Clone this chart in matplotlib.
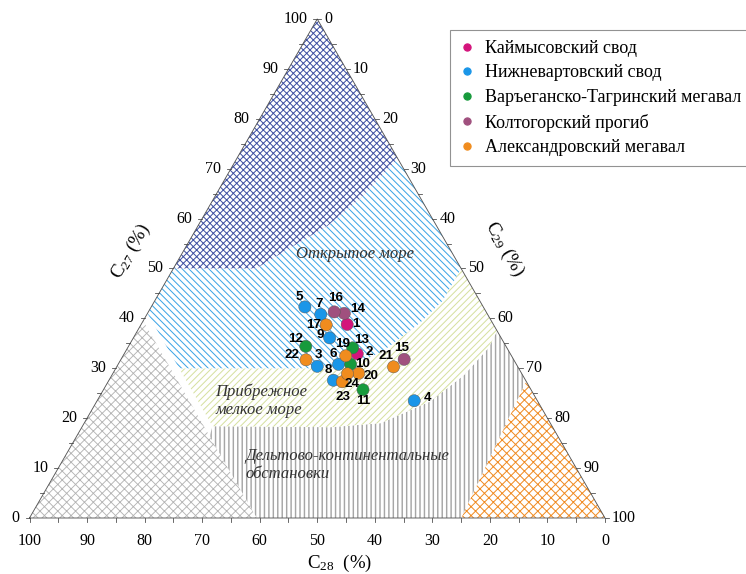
import numpy as np
import matplotlib
matplotlib.use("Agg")
import matplotlib.pyplot as plt
from matplotlib.lines import Line2D

plt.rcParams['font.family'] = ['Liberation Serif', 'DejaVu Serif']
plt.rcParams['mathtext.fontset'] = 'custom'
plt.rcParams['mathtext.rm'] = 'Liberation Serif'
plt.rcParams['mathtext.it'] = 'Liberation Serif:italic'
plt.rcParams['hatch.linewidth'] = 0.9

# ==========================================================
# data: steranes C27 / C28 / C29, %
# ==========================================================
sample_ids = ['1', '2', '3', '4', '5', '6', '7', '8', '9', '10', '11', '12',
              '13', '14', '15', '16', '17', '19', '20', '21', '22', '23', '24']
sample_group = [0, 0, 1, 1, 1, 1, 1, 1, 1, 2, 2, 2,
                2, 3, 3, 3, 4, 4, 4, 4, 4, 4, 4]
c27 = [38.8, 32.9, 30.4, 23.5, 42.3, 30.8, 40.8, 27.6, 36.1, 30.8, 25.7, 34.4,
       34.1, 41.0, 31.8, 41.3, 38.7, 32.5, 29.0, 30.3, 31.7, 27.3, 28.9]
c28 = [25.4, 26.6, 34.8, 21.4, 31.0, 30.9, 29.0, 33.4, 29.8, 28.8, 29.2, 34.8,
       26.8, 24.8, 19.0, 26.4, 29.1, 28.8, 28.3, 21.6, 36.1, 32.0, 30.3]
c29 = [35.8, 40.5, 34.8, 55.1, 26.7, 38.3, 30.2, 39.0, 34.1, 40.4, 45.1, 30.8,
       39.1, 34.2, 49.2, 32.3, 32.2, 38.7, 42.7, 48.1, 32.2, 40.7, 40.8]

groups = ['Каймысовский свод', 'Нижневартовский свод',
          'Варъеганско-Тагринский мегавал', 'Колтогорский прогиб',
          'Александровский мегавал']
group_colors = ['#d4147c', '#1a96e8', '#179a3c', '#a0507e', '#f08c1e']

# facies fields, vertices as (C27, C29) %
field_deep = [(100, 0), (50, 0), (50, 14.4), (54.5, 18.6), (58.5, 22.5),
              (64.1, 25.5), (72, 28)]
field_open_sea = [(50, 0), (41, 0), (30, 11), (30, 37.5), (31.5, 41.8),
                  (33.3, 44.6), (39.1, 48.3), (43.5, 50), (50, 50), (72, 28),
                  (64.1, 25.5), (58.5, 22.5), (54.5, 18.6), (50, 14.4)]
field_shelf = [(30, 11), (30, 37.5), (31.5, 41.8), (33.3, 44.6), (39.1, 48.3),
               (43.5, 50), (50, 50), (37.5, 62.5), (34.1, 62.7), (28.7, 61.2),
               (23.4, 58.0), (19.0, 51.5), (18.2, 43.2), (18.4, 22.6)]
field_delta = [(18.4, 22.6), (18.2, 43.2), (19.0, 51.5), (23.4, 58.0),
               (28.7, 61.2), (34.1, 62.7), (37.5, 62.5), (27.4, 72.6),
               (0, 75), (0, 39.5), (16.4, 23.1)]
field_c28 = [(0, 0), (39.5, 0), (0, 39.5)]
field_c29 = [(27.4, 72.6), (0, 100), (0, 75)]

# label offsets, px (right, down)
label_offsets = {'1': (9, 0), '2': (12, -2), '3': (1, -11), '4': (13, -3),
                 '5': (-6, -10), '6': (-5, -10), '7': (-2, -10), '8': (-5, -10),
                 '9': (-9, -3), '10': (12, 0), '11': (0, 11), '12': (-10, -7),
                 '13': (9, -8), '14': (13, -4), '15': (-3, -11), '16': (1, -14),
                 '17': (-13, 0), '19': (-3, -12), '20': (12, 3), '21': (-8, -11),
                 '22': (-14, -5), '23': (1, 15), '24': (5, 10)}

# ==========================================================
# geometry
# ==========================================================
W, H, DPI = 746, 574, 80
X0, Y0 = 29.5, 518.0      # left corner of triangle, px
SX, SY = 575.5, 576.2     # px per unit side
R3 = np.sqrt(3) / 2


def tern(a27, a29):
    a27 = np.asarray(a27, float) / 100
    a29 = np.asarray(a29, float) / 100
    return a29 + a27 / 2, a27 * R3


def px(x, y):
    return (x - X0) / SX, (Y0 - y) / SY


fig = plt.figure(figsize=(W / DPI, H / DPI), dpi=DPI)
ax = fig.add_axes([0, 0, 1, 1])
ax.set_xlim(px(0, 0)[0], px(W, 0)[0])
ax.set_ylim(px(0, H)[1], px(0, 0)[1])
ax.axis('off')

# --- fields ---
fields = [(field_c28, '#b4b4b4', 'xxx', 0.8),
          (field_c29, '#f08c24', 'xxx', 0.9),
          (field_delta, '#a6a6a6', '|||', 1.3),
          (field_shelf, '#d6e0a0', '////', 0.9),
          (field_open_sea, '#3ba4e6', '\\\\\\\\', 0.9),
          (field_deep, '#3f51a3', 'xxxx', 0.9)]
for verts, color, hatch, hlw in fields:
    a27, a29 = zip(*verts)
    x, y = tern(a27, a29)
    p = ax.fill(x, y, facecolor='white', edgecolor=color, hatch=hatch,
                linewidth=0)[0]
    if hasattr(p, 'set_hatch_linewidth'):
        p.set_hatch_linewidth(hlw)

# --- triangle frame ---
tx, ty = tern([0, 0, 100, 0], [0, 100, 0, 0])
ax.plot(tx, ty, color='#555555', lw=0.8)

# --- ticks and labels ---
tk = 4
for v in range(0, 101, 5):
    # bottom: C28
    bx, by = tern(0, 100 - v)
    ax.plot([bx, bx], [by, by - tk / SY], color='#444444', lw=0.7)
    # left: C27
    lx, ly = tern(v, 0)
    ax.plot([lx, lx - tk / SX], [ly, ly], color='#444444', lw=0.7)
    # right: C29
    rx, ry = tern(100 - v, v)
    ax.plot([rx, rx + tk / SX], [ry, ry], color='#444444', lw=0.7)
    if v % 10 == 0:
        ax.text(bx, by - 23 / SY, str(v), ha='center', va='center', fontsize=14.4)
        ax.text(lx - 10 / SX, ly, str(v), ha='right', va='center', fontsize=14.4)
        ax.text(rx + 7 / SX, ry, str(v), ha='left', va='center', fontsize=14.4)

ax.text(*px(131, 252), r'C$_{27}$ (%)', rotation=60, ha='center', va='center',
        fontsize=17)
ax.text(*px(504, 249), r'C$_{29}$ (%)', rotation=-60, ha='center', va='center',
        fontsize=17)
ax.text(*px(340, 563), r'C$_{28}$  (%)', ha='center', va='center', fontsize=17)

# --- field names ---
ax.text(*px(355, 254), 'Открытое море', style='italic', color='#333333',
        ha='center', va='center', fontsize=15)
ax.text(*px(215, 401), 'Прибрежное\nмелкое море', style='italic',
        color='#333333', ha='left', va='center', fontsize=15, linespacing=1.15)
ax.text(*px(245, 465), 'Дельтово-континентальные\nобстановки', style='italic',
        color='#333333', ha='left', va='center', fontsize=15, linespacing=1.15)

# --- samples ---
xs, ys = tern(c27, c29)
cols = [group_colors[g] for g in sample_group]
ax.scatter(xs, ys, s=120, c=cols, edgecolors='#555555', linewidths=0.4,
           zorder=5)
for sid, x, y in zip(sample_ids, xs, ys):
    dx, dy = label_offsets[sid]
    ax.annotate(sid, (x, y), xytext=(dx, -dy), textcoords='offset pixels',
                ha='center', va='center', fontsize=12, fontweight='bold',
                family='Liberation Sans', zorder=6)

# --- legend ---
handles = [Line2D([], [], marker='o', ls='none', markerfacecolor=c,
                  markeredgecolor=c, markersize=6.5) for c in group_colors]
leg = ax.legend(handles, groups, loc='upper left',
                bbox_to_anchor=(450 / W, 1 - 30 / H),
                bbox_transform=fig.transFigure, frameon=True, fancybox=False,
                edgecolor='#777777', fontsize=16.2, borderpad=0.55,
                handlelength=0.8, handletextpad=0.62, labelspacing=0.42,
                borderaxespad=0)
leg.get_frame().set_linewidth(1.0)

fig.savefig('out.png', dpi=DPI)
